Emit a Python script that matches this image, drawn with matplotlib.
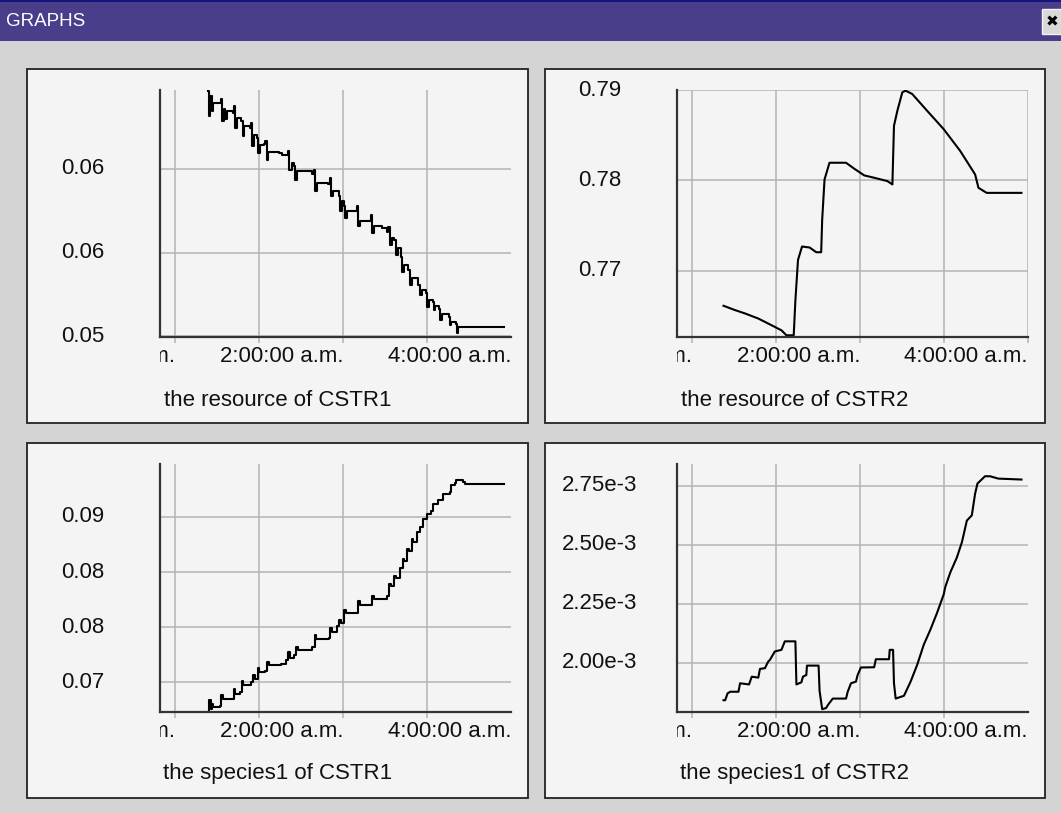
import matplotlib
matplotlib.use('Agg')
import matplotlib.pyplot as plt
from matplotlib.patches import Rectangle
from matplotlib.transforms import Bbox, TransformedBbox

plt.rcParams['font.family'] = ['Liberation Sans', 'DejaVu Sans']

# ---------------- data (time in hours) ----------------
window_title = "GRAPHS"
panel_titles = ["the resource of CSTR1", "the resource of CSTR2",
                "the species1 of CSTR1", "the species1 of CSTR2"]

x_ticks = [0, 1, 2, 3, 4]
x_labels = ["12:00:00 a.m.", "", "2:00:00 a.m.", "", "4:00:00 a.m."]

res1_t = [0.394, 0.406, 0.418, 0.434, 0.453, 0.532, 0.544, 0.560, 0.579, 0.599,
          0.619, 0.690, 0.702, 0.717, 0.741, 0.788, 0.808, 0.820, 0.887, 0.906,
          0.918, 0.938, 0.977, 0.993, 1.009, 1.056, 1.072, 1.096, 1.112, 1.242,
          1.269, 1.332, 1.344, 1.360, 1.387, 1.419, 1.431, 1.450, 1.636, 1.655,
          1.667, 1.687, 1.825, 1.841, 1.853, 1.880, 1.951, 1.963, 1.983, 2.010,
          2.022, 2.042, 2.156, 2.168, 2.180, 2.199, 2.314, 2.330, 2.345, 2.365,
          2.464, 2.523, 2.538, 2.554, 2.582, 2.609, 2.625, 2.649, 2.688, 2.704,
          2.727, 2.779, 2.794, 2.818, 2.897, 2.913, 2.937, 2.988, 3.000, 3.019,
          3.067, 3.078, 3.098, 3.145, 3.157, 3.177, 3.256, 3.268, 3.287, 3.343,
          3.354, 3.366, 3.922]
res1_v = [0.06466, 0.06316, 0.06436, 0.06346, 0.06396, 0.06396, 0.06416, 0.06286, 0.06356, 0.06296,
          0.06346, 0.06336, 0.06376, 0.06246, 0.06306, 0.06286, 0.06196, 0.06256, 0.06246, 0.06276,
          0.06136, 0.06206, 0.06186, 0.06096, 0.06146, 0.06150, 0.06166, 0.06056, 0.06102, 0.06096,
          0.06086, 0.06086, 0.06106, 0.05996, 0.06036, 0.06016, 0.05936, 0.05986, 0.05970, 0.05996,
          0.05870, 0.05916, 0.05912, 0.05946, 0.05836, 0.05870, 0.05836, 0.05746, 0.05806, 0.05776,
          0.05710, 0.05750, 0.05750, 0.05776, 0.05660, 0.05690, 0.05690, 0.05726, 0.05616, 0.05660,
          0.05646, 0.05626, 0.05656, 0.05546, 0.05586, 0.05576, 0.05486, 0.05526, 0.05476, 0.05386,
          0.05426, 0.05396, 0.05306, 0.05346, 0.05306, 0.05246, 0.05276, 0.05256, 0.05176, 0.05216,
          0.05206, 0.05156, 0.05180, 0.05166, 0.05096, 0.05136, 0.05116, 0.05066, 0.05086, 0.05076,
          0.05020, 0.05056, 0.05056]

res2_t = [0.374, 0.512, 0.631, 0.788, 0.946, 1.064, 1.123, 1.210, 1.230, 1.261,
          1.309, 1.400, 1.478, 1.537, 1.549, 1.577, 1.636, 1.833, 1.931, 2.050,
          2.168, 2.326, 2.385, 2.404, 2.444, 2.503, 2.542, 2.621, 2.799, 2.996,
          3.193, 3.370, 3.410, 3.508, 3.922]
res2_v = [0.76615, 0.76567, 0.76530, 0.76474, 0.76400, 0.76344, 0.76289, 0.76289, 0.76678, 0.77122,
          0.77270, 0.77259, 0.77207, 0.77207, 0.77567, 0.78011, 0.78196, 0.78196, 0.78130, 0.78056,
          0.78030, 0.77993, 0.77956, 0.78604, 0.78770, 0.78974, 0.78993, 0.78956, 0.78770, 0.78567,
          0.78326, 0.78067, 0.77919, 0.77863, 0.77863]

sp1_t = [0.374, 0.394, 0.406, 0.422, 0.434, 0.453, 0.532, 0.552, 0.571, 0.670,
         0.702, 0.717, 0.769, 0.796, 0.812, 0.906, 0.926, 0.946, 0.985, 1.001,
         1.072, 1.096, 1.123, 1.261, 1.320, 1.348, 1.372, 1.419, 1.439, 1.458,
         1.636, 1.663, 1.683, 1.833, 1.845, 1.864, 1.931, 1.951, 1.971, 2.010,
         2.038, 2.160, 2.180, 2.199, 2.326, 2.346, 2.373, 2.523, 2.542, 2.570,
         2.609, 2.633, 2.680, 2.712, 2.727, 2.767, 2.783, 2.818, 2.838, 2.877,
         2.917, 2.956, 2.996, 3.043, 3.074, 3.134, 3.185, 3.272, 3.291, 3.339,
         3.350, 3.429, 3.449, 3.922]
sp1_v = [0.06728, 0.06734, 0.06835, 0.06759, 0.06804, 0.06774, 0.06783, 0.06881, 0.06844, 0.06844,
         0.06942, 0.06896, 0.06911, 0.07009, 0.06972, 0.07003, 0.07064, 0.07033, 0.07125, 0.07094,
         0.07100, 0.07186, 0.07155, 0.07164, 0.07201, 0.07277, 0.07222, 0.07247, 0.07323, 0.07292,
         0.07323, 0.07430, 0.07393, 0.07399, 0.07491, 0.07460, 0.07506, 0.07567, 0.07536, 0.07658,
         0.07628, 0.07628, 0.07741, 0.07704, 0.07704, 0.07780, 0.07759, 0.07780, 0.07887, 0.07872,
         0.07963, 0.07948, 0.08040, 0.08116, 0.08101, 0.08207, 0.08192, 0.08299, 0.08268, 0.08360,
         0.08406, 0.08482, 0.08528, 0.08558, 0.08619, 0.08650, 0.08711, 0.08726, 0.08787, 0.08808,
         0.08833, 0.08817, 0.08796, 0.08796]

sp2_t = [0.374, 0.394, 0.422, 0.453, 0.552, 0.571, 0.678, 0.710, 0.788, 0.808,
         0.867, 0.906, 0.926, 0.985, 1.064, 1.104, 1.230, 1.242, 1.301, 1.320,
         1.360, 1.368, 1.506, 1.518, 1.549, 1.596, 1.616, 1.675, 1.833, 1.853,
         1.892, 1.951, 1.971, 2.010, 2.168, 2.188, 2.345, 2.353, 2.393, 2.404,
         2.424, 2.523, 2.602, 2.680, 2.759, 2.838, 2.917, 2.996, 3.015, 3.074,
         3.153, 3.213, 3.272, 3.331, 3.370, 3.398, 3.488, 3.548, 3.646, 3.922]
sp2_v = [1.840e-3, 1.840e-3, 1.869e-3, 1.876e-3, 1.876e-3, 1.912e-3, 1.907e-3, 1.940e-3, 1.936e-3, 1.973e-3,
         1.976e-3, 2.004e-3, 2.011e-3, 2.047e-3, 2.054e-3, 2.090e-3, 2.090e-3, 1.907e-3, 1.916e-3, 1.940e-3,
         1.947e-3, 1.987e-3, 1.987e-3, 1.879e-3, 1.802e-3, 1.807e-3, 1.819e-3, 1.847e-3, 1.847e-3, 1.876e-3,
         1.912e-3, 1.919e-3, 1.947e-3, 1.979e-3, 1.980e-3, 2.014e-3, 2.014e-3, 2.054e-3, 2.054e-3, 1.912e-3,
         1.847e-3, 1.859e-3, 1.919e-3, 1.990e-3, 2.076e-3, 2.140e-3, 2.211e-3, 2.289e-3, 2.321e-3, 2.382e-3,
         2.446e-3, 2.511e-3, 2.603e-3, 2.625e-3, 2.717e-3, 2.760e-3, 2.791e-3, 2.791e-3, 2.781e-3, 2.777e-3]

y_ticks = [[0.050, 0.055, 0.060], [0.77, 0.78, 0.79],
           [0.070, 0.075, 0.080, 0.085], [2.00e-3, 2.25e-3, 2.50e-3, 2.75e-3]]
y_labels = [["0.05", "0.06", "0.06"], ["0.77", "0.78", "0.79"],
            ["0.07", "0.08", "0.08", "0.09"], ["2.00e-3", "2.25e-3", "2.50e-3", "2.75e-3"]]
y_limits = [(0.04996, 0.06472), (0.7627, 0.79), (0.0673, 0.0898), (1.790e-3, 2.843e-3)]
series = [(res1_t, res1_v), (res2_t, res2_v), (sp1_t, sp1_v), (sp2_t, sp2_v)]
draw_styles = ['steps-post', 'default', 'steps-post', 'default']

# ---------------- layout ----------------
W, H = 1061, 813
fig = plt.figure(figsize=(W / 100, H / 100), dpi=100)
fig.patch.set_facecolor('#d4d4d4')

def fx(px):
    return px / W

def fy(py):
    return 1 - py / H

# window title bar
fig.add_artist(Rectangle((0, fy(41)), 1, 41 / H, transform=fig.transFigure,
                         facecolor='#483e8a', edgecolor='none', zorder=-2))
fig.add_artist(Rectangle((0, fy(2)), 1, 2 / H, transform=fig.transFigure,
                         facecolor='#14147a', edgecolor='none', zorder=-2))
fig.text(fx(6), fy(21), window_title, color='white', fontsize=13.5,
         family=['Liberation Sans Narrow', 'Liberation Sans'], va='center', ha='left')
fig.add_artist(Rectangle((fx(1042), fy(34)), fx(19), 25 / H, transform=fig.transFigure,
                         facecolor='#d8d8d8', edgecolor='#f4f4f4', lw=1, zorder=-1))
fig.text(fx(1052), fy(22), '\u2716', color='black', fontsize=11,
         family=['DejaVu Sans'], va='center', ha='center')

panel_boxes = [(27, 69, 528, 423), (545, 69, 1045, 423),
               (27, 443, 528, 798), (545, 443, 1045, 798)]
axes_boxes = [(160, 90, 511, 337), (677, 90, 1028, 337),
              (160, 464, 511, 712), (677, 464, 1028, 712)]
title_y = [400, 400, 773, 773]
show_right_grid = [False, True, False, False]

grid_c = '#b4b4b4'
for i in range(4):
    x0, y0, x1, y1 = panel_boxes[i]
    fig.add_artist(Rectangle((fx(x0), fy(y1)), fx(x1 - x0), (y1 - y0) / H,
                             transform=fig.transFigure, facecolor='#f4f4f4',
                             edgecolor='#222222', lw=1.3, zorder=-1))
    fig.text(fx((x0 + x1) / 2), fy(title_y[i]), panel_titles[i], fontsize=16,
             ha='center', va='center', color='#111111')

    a0, b0, a1, b1 = axes_boxes[i]
    ax = fig.add_axes([fx(a0), fy(b1), fx(a1 - a0), (b1 - b0) / H])
    ax.set_zorder(2)
    ax.set_facecolor('none')
    for s in ['top', 'right']:
        ax.spines[s].set_visible(False)
    for s in ['left', 'bottom']:
        ax.spines[s].set_linewidth(1.6)
        ax.spines[s].set_color('#333333')
    ax.set_axisbelow(True)
    t, v = series[i]
    ax.plot(t, v, color='black', lw=1.5, drawstyle=draw_styles[i])
    ax.set_xlim(-0.18, 4.0)
    ax.set_ylim(*y_limits[i])
    ax.set_xticks(x_ticks, x_labels)
    ax.set_yticks(y_ticks[i], y_labels[i])
    ax.grid(True, color=grid_c, lw=1.1)
    ax.tick_params(axis='x', length=4.5, width=1.1, color=grid_c, pad=2,
                   labelsize=16, labelcolor='#111111')
    ax.tick_params(axis='y', length=0, pad=55.5, labelsize=16, labelcolor='#111111')
    for lab in ax.get_yticklabels():
        lab.set_ha('center')
        lab.set_va('center')
    for lab in ax.get_xticklabels():
        lab.set_ha('right')
    ticks = ax.xaxis.get_major_ticks()
    clip = TransformedBbox(Bbox([[0, -1], [1.5, 1]]), ax.transAxes)
    ticks[0].label1.set_clip_box(clip)
    ticks[0].label1.set_clip_on(True)
    if not show_right_grid[i]:
        ticks[-1].gridline.set_visible(False)
        ticks[-1].tick1line.set_visible(False)

fig.savefig('out.png', dpi=100, facecolor=fig.get_facecolor())
